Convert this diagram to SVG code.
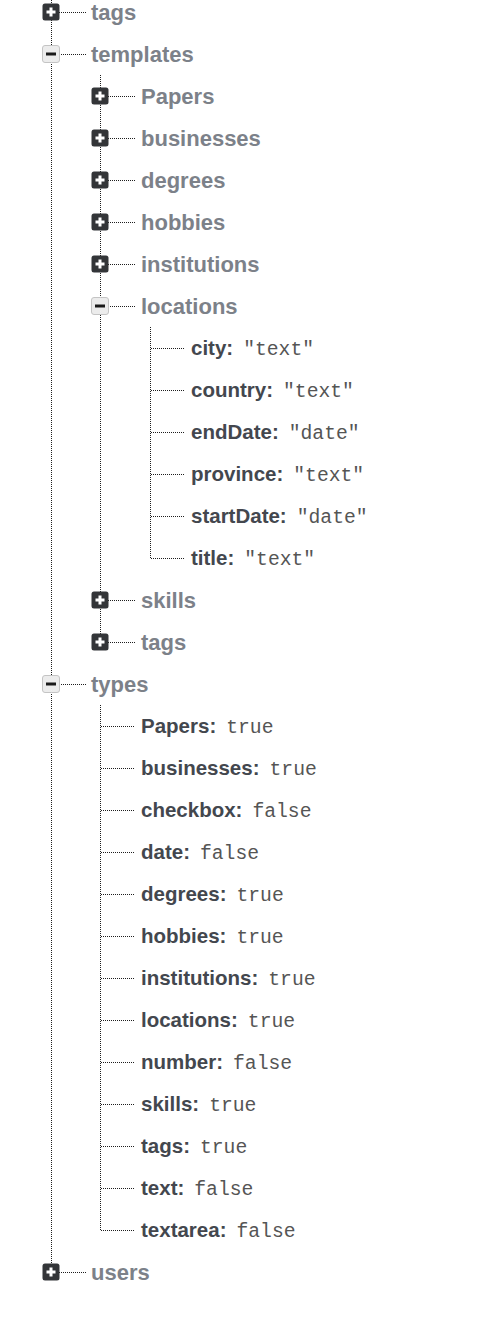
<svg xmlns="http://www.w3.org/2000/svg" width="491" height="1321" viewBox="0 0 491 1321">
<style>
.bg{fill:#ffffff}
.ln{stroke:#1e1e1e;stroke-width:1;stroke-dasharray:1 1;fill:none;shape-rendering:crispEdges}
.ex{fill:#333538}
.exs{fill:#ffffff}
.co{fill:#ececec;stroke:#c4c4c4;stroke-width:1}
.cos{fill:#1a1a1a}
.br{font-family:"Liberation Sans",Arial,sans-serif;font-weight:bold;font-size:22px;fill:#7c8189}
.k{font-family:"Liberation Sans",Arial,sans-serif;font-weight:bold;font-size:20.5px;fill:#43474e}
.v{font-family:"Liberation Mono","Courier New",monospace;font-weight:normal;font-size:19.7px;fill:#555555}
</style>
<defs>
<g id="plus"><rect class="ex" x="-8.5" y="-8.5" width="17" height="17" rx="2.5"/><rect class="exs" x="-4.5" y="-1.5" width="9" height="3"/><rect class="exs" x="-1.5" y="-4.5" width="3" height="9"/></g>
<g id="minus"><rect class="co" x="-8.5" y="-8.5" width="17" height="17" rx="2.5"/><rect class="cos" x="-5" y="-1.5" width="10" height="3"/></g>
</defs>
<rect class="bg" x="0" y="0" width="491" height="1321"/>
<g id="connectors">
<path class="ln" d="M51.5 0V1272"/>
<path class="ln" d="M59 12.5H86M59 54.5H86M59 684.5H86M59 1272.5H86"/>
<path class="ln" d="M100.5 75V642"/>
<path class="ln" d="M108 96.5H135M108 138.5H135M108 180.5H135M108 222.5H135M108 264.5H135M108 306.5H135M108 600.5H135M108 642.5H135"/>
<path class="ln" d="M150.5 327V558.5H185M150.5 348.5H185M150.5 390.5H185M150.5 432.5H185M150.5 474.5H185M150.5 516.5H185"/>
<path class="ln" d="M100.5 705V1230.5H135M100.5 726.5H135M100.5 768.5H135M100.5 810.5H135M100.5 852.5H135M100.5 894.5H135M100.5 936.5H135M100.5 978.5H135M100.5 1020.5H135M100.5 1062.5H135M100.5 1104.5H135M100.5 1146.5H135M100.5 1188.5H135"/>
</g>
<g id="node-tags"><use href="#plus" x="51" y="12"/><text class="br" x="91" y="19.5">tags</text></g>
<g id="node-templates"><use href="#minus" x="51" y="54"/><text class="br" x="91" y="61.5">templates</text></g>
<g id="node-templates-Papers"><use href="#plus" x="100" y="96"/><text class="br" x="141" y="103.5">Papers</text></g>
<g id="node-templates-businesses"><use href="#plus" x="100" y="138"/><text class="br" x="141" y="145.5">businesses</text></g>
<g id="node-templates-degrees"><use href="#plus" x="100" y="180"/><text class="br" x="141" y="187.5">degrees</text></g>
<g id="node-templates-hobbies"><use href="#plus" x="100" y="222"/><text class="br" x="141" y="229.5">hobbies</text></g>
<g id="node-templates-institutions"><use href="#plus" x="100" y="264"/><text class="br" x="141" y="271.5">institutions</text></g>
<g id="node-templates-locations"><use href="#minus" x="100" y="306"/><text class="br" x="141" y="313.5">locations</text></g>
<g id="node-loc-city"><text x="191" y="355"><tspan class="k">city:</tspan><tspan class="v" dx="10">"text"</tspan></text></g>
<g id="node-loc-country"><text x="191" y="397"><tspan class="k">country:</tspan><tspan class="v" dx="10">"text"</tspan></text></g>
<g id="node-loc-endDate"><text x="191" y="439"><tspan class="k">endDate:</tspan><tspan class="v" dx="10">"date"</tspan></text></g>
<g id="node-loc-province"><text x="191" y="481"><tspan class="k">province:</tspan><tspan class="v" dx="10">"text"</tspan></text></g>
<g id="node-loc-startDate"><text x="191" y="523"><tspan class="k">startDate:</tspan><tspan class="v" dx="10">"date"</tspan></text></g>
<g id="node-loc-title"><text x="191" y="565"><tspan class="k">title:</tspan><tspan class="v" dx="10">"text"</tspan></text></g>
<g id="node-templates-skills"><use href="#plus" x="100" y="600"/><text class="br" x="141" y="607.5">skills</text></g>
<g id="node-templates-tags"><use href="#plus" x="100" y="642"/><text class="br" x="141" y="649.5">tags</text></g>
<g id="node-types"><use href="#minus" x="51" y="684"/><text class="br" x="91" y="691.5">types</text></g>
<g id="node-types-Papers"><text x="141" y="733"><tspan class="k">Papers:</tspan><tspan class="v" dx="10">true</tspan></text></g>
<g id="node-types-businesses"><text x="141" y="775"><tspan class="k">businesses:</tspan><tspan class="v" dx="10">true</tspan></text></g>
<g id="node-types-checkbox"><text x="141" y="817"><tspan class="k">checkbox:</tspan><tspan class="v" dx="10">false</tspan></text></g>
<g id="node-types-date"><text x="141" y="859"><tspan class="k">date:</tspan><tspan class="v" dx="10">false</tspan></text></g>
<g id="node-types-degrees"><text x="141" y="901"><tspan class="k">degrees:</tspan><tspan class="v" dx="10">true</tspan></text></g>
<g id="node-types-hobbies"><text x="141" y="943"><tspan class="k">hobbies:</tspan><tspan class="v" dx="10">true</tspan></text></g>
<g id="node-types-institutions"><text x="141" y="985"><tspan class="k">institutions:</tspan><tspan class="v" dx="10">true</tspan></text></g>
<g id="node-types-locations"><text x="141" y="1027"><tspan class="k">locations:</tspan><tspan class="v" dx="10">true</tspan></text></g>
<g id="node-types-number"><text x="141" y="1069"><tspan class="k">number:</tspan><tspan class="v" dx="10">false</tspan></text></g>
<g id="node-types-skills"><text x="141" y="1111"><tspan class="k">skills:</tspan><tspan class="v" dx="10">true</tspan></text></g>
<g id="node-types-tags"><text x="141" y="1153"><tspan class="k">tags:</tspan><tspan class="v" dx="10">true</tspan></text></g>
<g id="node-types-text"><text x="141" y="1195"><tspan class="k">text:</tspan><tspan class="v" dx="10">false</tspan></text></g>
<g id="node-types-textarea"><text x="141" y="1237"><tspan class="k">textarea:</tspan><tspan class="v" dx="10">false</tspan></text></g>
<g id="node-users"><use href="#plus" x="51" y="1272"/><text class="br" x="91" y="1279.5">users</text></g>
</svg>
